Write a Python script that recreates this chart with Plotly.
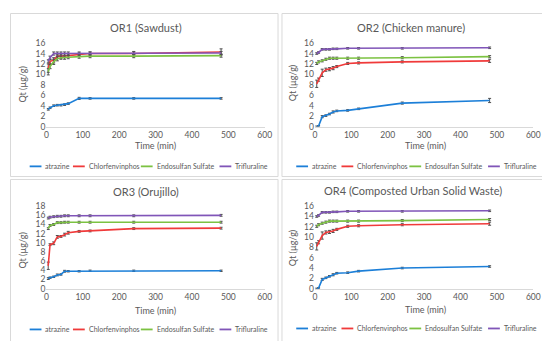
import plotly.graph_objects as go

W, H = 550, 341

time_min = [5, 10, 20, 30, 40, 50, 60, 90, 120, 240, 480]
series_names = ["atrazine", "Chlorfenvinphos", "Endosulfan Sulfate", "Trifluraline"]
panel_titles = ["OR1 (Sawdust)", "OR2 (Chicken manure)", "OR3 (Orujillo)", "OR4 (Composted Urban Solid Waste)"]
y_max = [16, 16, 18, 16]
y_dtick = 2
x_ticks = [0, 100, 200, 300, 400, 500, 600]

# OR1 (Sawdust)
or1_atrazine = [3.3, 3.6, 4.0, 4.1, 4.1, 4.2, 4.4, 5.4, 5.4, 5.4, 5.4]
or1_chlorfenvinphos = [11.2, 12.5, 12.7, 13.5, 13.5, 13.6, 13.6, 13.8, 14.0, 14.0, 14.3]
or1_endosulfan = [10.5, 11.5, 12.4, 13.0, 13.2, 13.2, 13.3, 13.4, 13.5, 13.5, 13.6]
or1_trifluraline = [12.5, 13.2, 14.0, 14.0, 14.0, 14.0, 14.0, 14.0, 14.0, 14.1, 14.1]
or1_atrazine_err = [0.15, 0.15, 0.15, 0.15, 0.15, 0.15, 0.15, 0.2, 0.15, 0.15, 0.15]
or1_chlorfenvinphos_err = [0.8, 0.4, 0.5, 0.4, 0.4, 0.4, 0.3, 0.3, 0.3, 0.3, 0.6]
or1_endosulfan_err = [0.6, 0.4, 0.5, 0.4, 0.3, 0.3, 0.3, 0.3, 0.3, 0.3, 0.3]
or1_trifluraline_err = [0.3, 0.3, 0.3, 0.3, 0.3, 0.3, 0.3, 0.3, 0.3, 0.3, 0.3]

# OR2 (Chicken manure)
or2_atrazine = [0.0, 0.1, 1.9, 2.1, 2.4, 2.8, 3.0, 3.1, 3.4, 4.5, 5.0]
or2_chlorfenvinphos = [8.2, 9.0, 10.3, 10.9, 11.0, 11.2, 11.5, 12.1, 12.2, 12.4, 12.6]
or2_endosulfan = [12.1, 12.4, 12.6, 12.9, 13.1, 13.1, 13.1, 13.1, 13.1, 13.2, 13.4]
or2_trifluraline = [14.0, 14.2, 14.8, 14.8, 14.8, 14.9, 14.9, 15.0, 15.0, 15.0, 15.1]
or2_atrazine_err = [0.1, 0.1, 0.2, 0.15, 0.15, 0.2, 0.15, 0.15, 0.15, 0.2, 0.4]
or2_chlorfenvinphos_err = [0.7, 0.3, 0.7, 0.3, 0.3, 0.3, 0.2, 0.2, 0.2, 0.2, 0.3]
or2_endosulfan_err = [0.2, 0.2, 0.2, 0.2, 0.2, 0.2, 0.2, 0.2, 0.2, 0.2, 0.2]
or2_trifluraline_err = [0.15, 0.15, 0.15, 0.15, 0.15, 0.15, 0.15, 0.15, 0.15, 0.15, 0.15]

# OR3 (Orujillo)
or3_atrazine = [2.2, 2.4, 2.6, 3.0, 3.1, 3.8, 3.8, 3.8, 3.9, 3.9, 3.9]
or3_chlorfenvinphos = [5.0, 9.6, 9.9, 11.3, 11.4, 11.8, 12.2, 12.5, 12.6, 13.1, 13.2]
or3_endosulfan = [13.1, 13.8, 14.0, 14.4, 14.4, 14.5, 14.5, 14.5, 14.5, 14.5, 14.5]
or3_trifluraline = [15.4, 15.6, 15.7, 15.8, 15.8, 15.9, 15.9, 15.9, 15.9, 15.9, 16.0]
or3_atrazine_err = [0.2, 0.15, 0.15, 0.2, 0.15, 0.2, 0.15, 0.15, 0.15, 0.15, 0.15]
or3_chlorfenvinphos_err = [0.8, 0.2, 0.3, 0.3, 0.2, 0.3, 0.3, 0.2, 0.2, 0.2, 0.2]
or3_endosulfan_err = [0.2, 0.2, 0.2, 0.2, 0.2, 0.2, 0.2, 0.2, 0.2, 0.2, 0.2]
or3_trifluraline_err = [0.2, 0.2, 0.2, 0.2, 0.2, 0.2, 0.2, 0.2, 0.2, 0.2, 0.2]

# OR4 (Composted Urban Solid Waste)
or4_atrazine = [0.0, 0.1, 1.8, 2.1, 2.4, 2.7, 3.0, 3.1, 3.4, 4.0, 4.3]
or4_chlorfenvinphos = [8.2, 9.0, 10.3, 10.9, 11.0, 11.2, 11.5, 12.1, 12.2, 12.4, 12.6]
or4_endosulfan = [12.1, 12.4, 12.7, 12.9, 13.1, 13.1, 13.1, 13.1, 13.1, 13.2, 13.4]
or4_trifluraline = [14.0, 14.2, 14.8, 14.8, 14.8, 14.9, 14.9, 15.0, 15.0, 15.0, 15.1]
or4_atrazine_err = [0.1, 0.1, 0.2, 0.15, 0.15, 0.2, 0.15, 0.15, 0.15, 0.15, 0.15]
or4_chlorfenvinphos_err = [0.7, 0.3, 0.7, 0.3, 0.3, 0.3, 0.2, 0.2, 0.2, 0.2, 0.3]
or4_endosulfan_err = [0.2, 0.2, 0.2, 0.2, 0.2, 0.2, 0.2, 0.2, 0.2, 0.2, 0.2]
or4_trifluraline_err = [0.15, 0.15, 0.15, 0.15, 0.15, 0.15, 0.15, 0.15, 0.15, 0.15, 0.15]

panels_values = [
    [or1_atrazine, or1_chlorfenvinphos, or1_endosulfan, or1_trifluraline],
    [or2_atrazine, or2_chlorfenvinphos, or2_endosulfan, or2_trifluraline],
    [or3_atrazine, or3_chlorfenvinphos, or3_endosulfan, or3_trifluraline],
    [or4_atrazine, or4_chlorfenvinphos, or4_endosulfan, or4_trifluraline],
]
panels_errors = [
    [or1_atrazine_err, or1_chlorfenvinphos_err, or1_endosulfan_err, or1_trifluraline_err],
    [or2_atrazine_err, or2_chlorfenvinphos_err, or2_endosulfan_err, or2_trifluraline_err],
    [or3_atrazine_err, or3_chlorfenvinphos_err, or3_endosulfan_err, or3_trifluraline_err],
    [or4_atrazine_err, or4_chlorfenvinphos_err, or4_endosulfan_err, or4_trifluraline_err],
]

# ---- styling / layout (pixel geometry) ----
colors = ["#1c7fd8", "#f03a3a", "#7cc242", "#8055b8"]
FONT = "Lato"
TXT = "#595959"

# per panel: plot area pixel box (x0, x1, ytop, ybottom)
plot_boxes = [
    (37, 259, 31, 117),
    (310, 532, 31, 117),
    (37, 259, 199, 284),
    (310, 532, 199, 284),
]
frames = [(0.5, 272.5, 0.5, 168.5), (276.5, 549.5, 0.5, 168.5),
          (0.5, 272.5, 171.5, 340.5), (276.5, 549.5, 171.5, 340.5)]
title_pos = [(138, 15), (408, 15), (138, 184), (410, 183)]
xtitle_pos = [(148, 137), (422, 137), (148, 306), (422, 305)]
ytitle_pos = [(13, 74), (288, 72), (13, 245), (288, 242)]
legend_y = [158, 158, 326, 325]
legend_line_x = [[(20, 32), (64, 76), (133, 145), (213, 225)],
                 [(291, 303), (337, 349), (406, 418), (486, 498)],
                 [(20, 32), (64, 76), (133, 145), (213, 225)],
                 [(291, 303), (337, 349), (406, 418), (486, 498)]]
legend_text_x = [[34, 78, 147, 227], [305, 351, 420, 500],
                 [34, 78, 147, 227], [305, 351, 420, 500]]

def px(x):
    return x / W

def py(y):
    return 1 - y / H

fig = go.Figure()
shapes = []
annotations = []

for p in range(4):
    ax = "" if p == 0 else str(p + 1)
    for s in range(4):
        fig.add_trace(go.Scatter(
            x=time_min, y=panels_values[p][s], name=series_names[s],
            mode="lines", line=dict(color=colors[s], width=1.6),
            error_y=dict(type="data", array=panels_errors[p][s], visible=True,
                         color="#505050", thickness=1, width=1.5),
            xaxis="x" + ax, yaxis="y" + ax, showlegend=False,
        ))
    x0, x1, yt, yb = plot_boxes[p]
    fig.update_layout(**{
        "xaxis" + ax: dict(domain=[px(x0), px(x1)], range=[0, 600], tickvals=x_ticks,
                           showgrid=False, zeroline=False, showline=True,
                           linecolor="#d9d9d9", linewidth=1, ticks="",
                           tickfont=dict(family=FONT, size=8.5, color=TXT),
                           anchor="y" + ax, fixedrange=True),
        "yaxis" + ax: dict(domain=[py(yb), py(yt)], range=[0, y_max[p]], dtick=y_dtick,
                           showgrid=False, zeroline=False, showline=False, ticks="",
                           tickfont=dict(family=FONT, size=8.5, color=TXT),
                           anchor="x" + ax, fixedrange=True),
    })
    fx0, fx1, fy0, fy1 = frames[p]
    shapes.append(dict(type="rect", xref="paper", yref="paper",
                       x0=px(fx0), x1=px(fx1), y0=py(fy1), y1=py(fy0),
                       line=dict(color="#d9d9d9", width=1)))
    annotations.append(dict(text=panel_titles[p], x=px(title_pos[p][0]), y=py(title_pos[p][1]),
                            xref="paper", yref="paper", showarrow=False,
                            xanchor="center", yanchor="middle",
                            font=dict(family=FONT, size=11, color=TXT)))
    annotations.append(dict(text="Time (min)", x=px(xtitle_pos[p][0]), y=py(xtitle_pos[p][1]),
                            xref="paper", yref="paper", showarrow=False,
                            xanchor="center", yanchor="middle",
                            font=dict(family=FONT, size=9, color=TXT)))
    annotations.append(dict(text="Qt (µg/g)", x=px(ytitle_pos[p][0]), y=py(ytitle_pos[p][1]),
                            xref="paper", yref="paper", showarrow=False, textangle=-90,
                            xanchor="center", yanchor="middle",
                            font=dict(family=FONT, size=9, color=TXT)))
    for s in range(4):
        lx0, lx1 = legend_line_x[p][s]
        shapes.append(dict(type="line", xref="paper", yref="paper",
                           x0=px(lx0), x1=px(lx1), y0=py(legend_y[p]), y1=py(legend_y[p]),
                           line=dict(color=colors[s], width=1.8)))
        annotations.append(dict(text=series_names[s], x=px(legend_text_x[p][s]), y=py(legend_y[p]),
                                xref="paper", yref="paper", showarrow=False,
                                xanchor="left", yanchor="middle",
                                font=dict(family=FONT, size=7, color=TXT)))

fig.update_layout(width=W, height=H, margin=dict(l=0, r=0, t=0, b=0),
                  paper_bgcolor="white", plot_bgcolor="white",
                  shapes=shapes, annotations=annotations, showlegend=False)

fig.write_html("out.html")
